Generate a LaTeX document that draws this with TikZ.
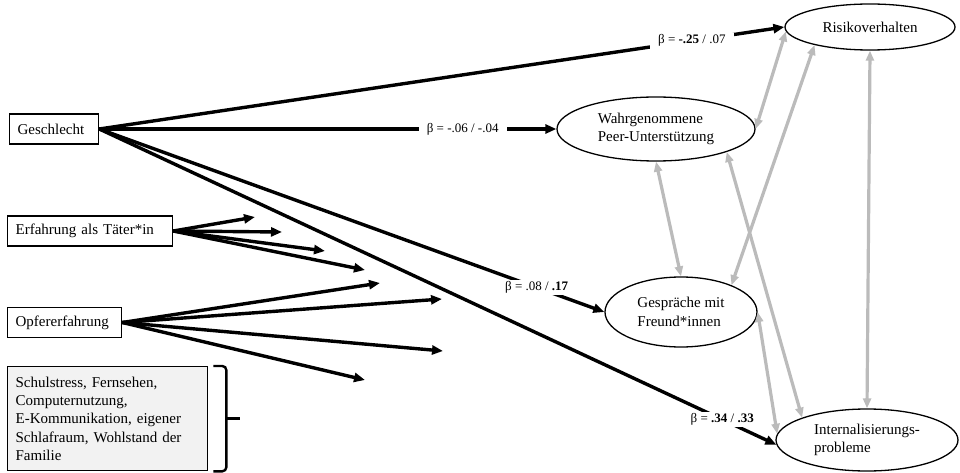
\documentclass[tikz,border=0pt]{standalone}
\usepackage{fontspec}
\setmainfont{Liberation Serif}
\usepackage{tikz}
\usetikzlibrary{arrows.meta,shapes.geometric}
\definecolor{grau}{HTML}{BBBBBB}
\definecolor{hellgrau}{HTML}{F2F2F2}

\begin{document}
\begin{tikzpicture}[x=1pt,y=-1pt,
  kasten/.style={draw,line width=1.3pt,inner xsep=8pt,inner ysep=4pt,minimum height=30pt,align=left,font=\fontsize{15}{18.3}\selectfont},
  oval/.style={draw,ellipse,line width=1.3pt,inner sep=0pt,align=left,font=\fontsize{15}{18.5}\selectfont},
  pfeil/.style={line width=3.4pt,-{Triangle[length=11pt,width=9pt]}},
  wechsel/.style={draw=grau,line width=3.2pt,{Triangle[length=10pt,width=8pt]}-{Triangle[length=10pt,width=8pt]}},
  beta/.style={fill=white,inner xsep=8pt,inner ysep=2pt,font=\fontsize{13}{15}\selectfont},
  klammer/.style={line width=2.4pt,rounded corners=4pt}]

\useasboundingbox (0,0) rectangle (960,473);

% Einflussgroessen links
\node[kasten,text width=73pt,anchor=west] (geschl) at (9,129) {Geschlecht};
\node[kasten,text width=149pt,anchor=west] (taeter) at (7,231) {Erfahrung als Täter*in};
\node[kasten,text width=98pt,anchor=west] (opfer) at (7,322.5) {Opfererfahrung};
\node[kasten,fill=hellgrau,text width=184pt,minimum height=104pt,anchor=north west] (rest) at (7,366)
  {Schulstress, Fernsehen,\\Computernutzung,\\E-Kommunikation, eigener\\Schlafraum, Wohlstand der\\Familie};

% Ergebnisse rechts
\node[oval,minimum width=170pt,minimum height=46pt] (risiko) at (870,27) {Risikoverhalten};
\node[oval,minimum width=198pt,minimum height=64pt] (peer) at (656,129) {Wahrgenommene\\Peer-Unterstützung};
\node[oval,minimum width=152pt,minimum height=70pt] (gespr) at (681,312) {Gespräche mit\\Freund*innen};
\node[oval,minimum width=182pt,minimum height=62pt] (intern) at (867,440) {Internalisierungs-\\probleme};

% Pfade vom Geschlecht
\draw[pfeil] (geschl.east) -- node[beta,pos=.865] {β = \textbf{-.25} / .07} (risiko.west);
\draw[pfeil] (geschl.east) -- node[beta,pos=.795] {β = -.06 / -.04} (peer.west);
\draw[pfeil] (geschl.east) -- node[beta,pos=.866] {β = .08 / \textbf{.17}} (gespr.west);
\draw[pfeil] (geschl.east) -- node[beta,pos=.92] {β = \textbf{.34} / \textbf{.33}} (intern.183);

% Taeter*in
\foreach \x/\y [count=\i] in {255/217,282/232,325/251,365/270}
{
  \coordinate (t\i) at (\x,\y);
  \draw[pfeil] (taeter.east) -- (t\i);
}

% Opfer
\foreach \x/\y [count=\i] in {380/283,442/299,443/351,365/380}
{
  \coordinate (o\i) at (\x,\y);
  \draw[pfeil] (opfer.east) -- (o\i);
}

% Korrelationen (grau)
\draw[wechsel] (peer.east) -- (risiko.183);
\draw[wechsel] (gespr.28) -- (risiko.198);
\draw[wechsel] (peer.south) -- (gespr.north);
\draw[wechsel] (peer.342) -- (intern.161);
\draw[wechsel] (gespr.east) -- (intern.176);
\draw[wechsel] (risiko.south) -- (intern.north);

% Klammer
\draw[klammer] ([xshift=5pt]rest.north east) -| ([xshift=18pt]rest.east) |- ([xshift=5pt]rest.south east);
\draw[klammer] ([xshift=18pt]rest.east) -- ([xshift=32pt]rest.east);
\end{tikzpicture}
\end{document}
